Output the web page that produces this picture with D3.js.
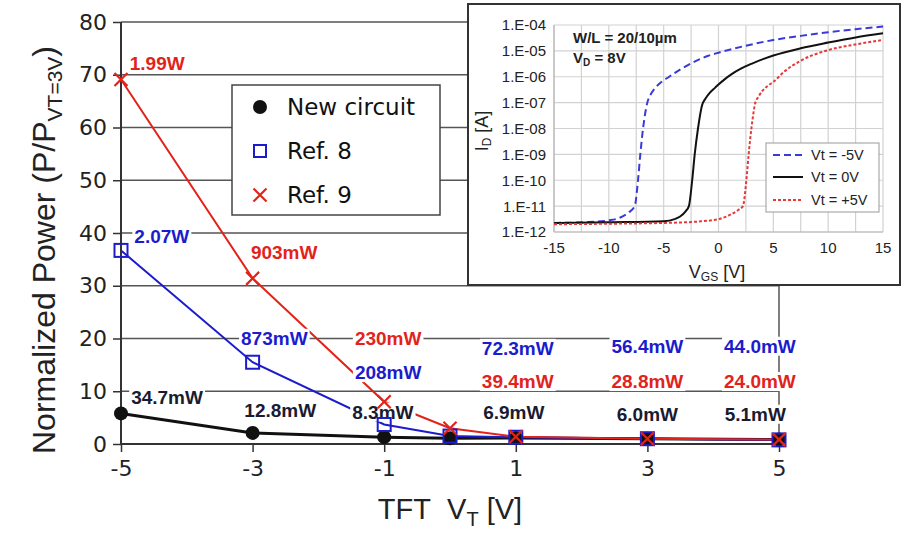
<!DOCTYPE html>
<html><head><meta charset="utf-8">
<script src="https://cdn.jsdelivr.net/npm/d3@7"></script>
<style>html,body{margin:0;padding:0;background:#fff;}svg{display:block;}</style>
</head><body>
<svg id="chart" width="915" height="533"></svg>
<script>
// ---------- Main chart data ----------
const vtValues = [-5, -3, -1, 0, 1, 3, 5];
const newCircuit = [5.8, 2.1, 1.3, 1.1, 1.15, 1.0, 0.85];
const ref8 = [36.7, 15.5, 3.7, 1.5, 1.28, 1.0, 0.78];
const ref9 = [69.1, 31.4, 8.0, 3.0, 1.37, 1.0, 0.83];
const yTicks = [0, 10, 20, 30, 40, 50, 60, 70, 80];
const xTicks = [-5, -3, -1, 1, 3, 5];
const seriesNames = ["New circuit", "Ref. 8", "Ref. 9"];

// power annotations: [text, vt, normalized-power anchor]
const labelsNew = [["34.7mW", -4.30, 8.9], ["12.8mW", -2.58, 6.4], ["8.3mW", -1.02, 6.1], ["6.9mW", 0.97, 6.1], ["6.0mW", 3.0, 5.7], ["5.1mW", 4.64, 5.7]];
const labelsRef8 = [["2.07W", -4.38, 39.4], ["873mW", -2.67, 20.1], ["208mW", -0.94, 13.6], ["72.3mW", 1.03, 18.2], ["56.4mW", 3.0, 18.6], ["44.0mW", 4.71, 18.6]];
const labelsRef9 = [["1.99W", -4.45, 72.2], ["903mW", -2.52, 36.4], ["230mW", -0.94, 20.1], ["39.4mW", 1.03, 11.9], ["28.8mW", 3.0, 11.9], ["24.0mW", 4.71, 11.9]];

// ---------- Inset data (VGS [V], log10 ID [A]) ----------
const vgsNeg5 = [-15, -12, -10, -9, -8.2, -7.64, -7.34, -7.13, -6.88, -6.49, -6.2, -5.8, -5.2, -4.5, -3.4, -2, -1, 0, 2.5, 5, 7.5, 10, 12.5, 15];
const logIdNeg5 = [-11.65, -11.62, -11.55, -11.45, -11.25, -11.0, -10.0, -9.0, -8.0, -7.0, -6.7, -6.45, -6.2, -6.0, -5.7, -5.38, -5.2, -5.07, -4.8, -4.58, -4.42, -4.28, -4.16, -4.06];
const vgsZero = [-15, -10, -5, -4, -3.5, -3.0, -2.7, -2.4, -2.17, -1.87, -1.5, -1.2, -0.8, -0.3, 0, 0.5, 1.2, 2, 3, 5, 7.5, 10, 12.5, 15];
const logIdZero = [-11.65, -11.62, -11.58, -11.5, -11.4, -11.2, -11.0, -10.0, -9.0, -8.0, -7.1, -6.85, -6.62, -6.42, -6.3, -6.12, -5.9, -5.7, -5.5, -5.18, -4.9, -4.68, -4.48, -4.32];
const vgsPos5 = [-15, -10, -5, -2, 0, 1, 1.8, 2.23, 2.54, 2.75, 3.0, 3.36, 3.6, 4.0, 4.5, 5, 6, 7.5, 10, 12.5, 15];
const logIdPos5 = [-11.7, -11.68, -11.65, -11.6, -11.5, -11.35, -11.15, -11.0, -10.0, -9.0, -8.0, -7.0, -6.8, -6.55, -6.35, -6.2, -5.8, -5.38, -4.97, -4.75, -4.58];
const insetXTicks = [-15, -10, -5, 0, 5, 10, 15];
const insetYExps = [-4, -5, -6, -7, -8, -9, -10, -11, -12];
const insetLegend = ["Vt = -5V", "Vt = 0V", "Vt = +5V"];

// ---------- Styling ----------
const RED = "#e2231a", BLUE = "#1c1ccc", BLACK = "#111", LBLACK = "#1b1b2f";
const svg = d3.select("#chart");

// ---------- Main scales ----------
const x = d3.scaleLinear().domain([-5, 5]).range([121, 779]);
const y = d3.scaleLinear().domain([0, 80]).range([444, 22]);

// gridlines
svg.append("g").selectAll("line").data(yTicks.filter(d => d > 0)).join("line")
  .attr("x1", x(-5)).attr("x2", x(5)).attr("y1", d => y(d)).attr("y2", d => y(d))
  .attr("stroke", "#555").attr("stroke-width", 1.5);
// right border
svg.append("line").attr("x1", x(5)).attr("x2", x(5)).attr("y1", y(80)).attr("y2", y(0))
  .attr("stroke", "#555").attr("stroke-width", 1.5);

// axes
const yAxis = d3.axisLeft(y).tickValues(yTicks).tickSize(8).tickPadding(6).tickFormat(d => String(d));
const gy = svg.append("g").attr("transform", `translate(${x(-5)},0)`).call(yAxis);
const xAxis = d3.axisBottom(x).tickValues(xTicks).tickSize(8).tickPadding(8).tickFormat(d => String(d));
const gx = svg.append("g").attr("transform", `translate(0,${y(0)})`).call(xAxis);
[gx, gy].forEach(g => {
  g.select(".domain").attr("stroke", "#333").attr("stroke-width", 2);
  g.selectAll(".tick line").attr("stroke", "#333").attr("stroke-width", 1.5);
  g.selectAll(".tick text").attr("font-family", "DejaVu Sans").attr("font-size", 22).attr("fill", "#222");
});
gy.select(".domain").attr("d", `M0,${y(0)}V${y(80)}`);
gx.select(".domain").attr("d", `M${x(-5)},0H${x(5)}`);

// axis titles
const xt = svg.append("text").attr("x", 450).attr("y", 519).attr("text-anchor", "middle")
  .attr("font-family", "Liberation Sans").attr("font-size", 29).attr("fill", "#222");
xt.append("tspan").text("TFT\u00a0\u00a0V");
xt.append("tspan").attr("font-size", 20).attr("dy", 7).text("T");
xt.append("tspan").attr("dy", -7).text(" [V]");

const yt = svg.append("text").attr("transform", "translate(55,250) rotate(-90)").attr("text-anchor", "middle")
  .attr("font-family", "Liberation Sans").attr("font-size", 32).attr("fill", "#222");
yt.append("tspan").text("Normalized Power (P/P");
yt.append("tspan").attr("font-size", 21).attr("dy", 7).text("VT=3V");
yt.append("tspan").attr("dy", -7).text(")");

// lines
const lineGen = d3.line().x((d, i) => x(vtValues[i])).y(d => y(d));
svg.append("path").datum(newCircuit).attr("d", lineGen).attr("fill", "none").attr("stroke", BLACK).attr("stroke-width", 3);
svg.append("path").datum(ref8).attr("d", lineGen).attr("fill", "none").attr("stroke", BLUE).attr("stroke-width", 2);
svg.append("path").datum(ref9).attr("d", lineGen).attr("fill", "none").attr("stroke", RED).attr("stroke-width", 2);

// labels with white background
function drawLabels(arr, color) {
  const g = svg.append("g");
  arr.forEach(([t, vx, vy]) => {
    const tx = g.append("text").attr("x", x(vx)).attr("y", y(vy)).attr("dy", "0.36em")
      .attr("text-anchor", "middle").attr("font-family", "Liberation Sans").attr("font-weight", "bold")
      .attr("font-size", 19).attr("fill", color).text(t);
    const bb = tx.node().getBBox();
    g.insert("rect", () => tx.node()).attr("x", bb.x - 2).attr("y", bb.y + 1).attr("width", bb.width + 4).attr("height", bb.height - 2).attr("fill", "#fff");
  });
}
drawLabels(labelsRef8, BLUE);
drawLabels(labelsRef9, RED);
drawLabels(labelsNew, LBLACK);

// markers
function circleM(g, cx, cy, r) { g.append("circle").attr("cx", cx).attr("cy", cy).attr("r", r).attr("fill", BLACK); }
function squareM(g, cx, cy, s) { g.append("rect").attr("x", cx - s / 2).attr("y", cy - s / 2).attr("width", s).attr("height", s).attr("fill", "none").attr("stroke", BLUE).attr("stroke-width", 2); }
function crossM(g, cx, cy, s) {
  g.append("path").attr("d", `M${cx - s},${cy - s}L${cx + s},${cy + s}M${cx - s},${cy + s}L${cx + s},${cy - s}`)
    .attr("stroke", RED).attr("stroke-width", 2.2).attr("fill", "none");
}
const mg = svg.append("g");
newCircuit.forEach((v, i) => circleM(mg, x(vtValues[i]), y(v), 7));
ref8.forEach((v, i) => squareM(mg, x(vtValues[i]), y(v), 13));
ref9.forEach((v, i) => crossM(mg, x(vtValues[i]), y(v), 6.5));

// main legend
const lg = svg.append("g");
lg.append("rect").attr("x", 232).attr("y", 85).attr("width", 208).attr("height", 130).attr("fill", "#fff").attr("stroke", "#444").attr("stroke-width", 1.5);
const legY = [107, 151, 195];
circleM(lg, 260, legY[0], 7);
squareM(lg, 260, legY[1], 12);
crossM(lg, 260, legY[2], 6.5);
lg.selectAll("text").data(seriesNames).join("text").attr("x", 287).attr("y", (d, i) => legY[i]).attr("dy", "0.36em")
  .attr("font-family", "DejaVu Sans").attr("font-size", 23).attr("fill", "#111").text(d => d);

// ---------- Inset ----------
const ig = svg.append("g");
ig.append("rect").attr("x", 468).attr("y", 4).attr("width", 432).attr("height", 281).attr("fill", "#fff").attr("stroke", "#333").attr("stroke-width", 2);
const ix = d3.scaleLinear().domain([-15, 15]).range([554, 883]);
const iy = d3.scaleLog().domain([1e-12, 1e-4]).range([232, 25]);
const vGrid = d3.range(-15, 15.1, 2.5);
ig.append("g").selectAll("line").data(vGrid).join("line")
  .attr("x1", d => ix(d)).attr("x2", d => ix(d)).attr("y1", iy(1e-4)).attr("y2", iy(1e-12))
  .attr("stroke", "#d2d2d2").attr("stroke-width", 1.2);
ig.append("g").selectAll("line").data(insetYExps).join("line")
  .attr("x1", ix(-15)).attr("x2", ix(15)).attr("y1", d => iy(Math.pow(10, d))).attr("y2", d => iy(Math.pow(10, d)))
  .attr("stroke", "#d2d2d2").attr("stroke-width", 1.2);
ig.append("line").attr("x1", ix(-15)).attr("x2", ix(-15)).attr("y1", iy(1e-4)).attr("y2", iy(1e-12)).attr("stroke", "#b8b8b8").attr("stroke-width", 1.2);
ig.append("line").attr("x1", ix(-15)).attr("x2", ix(15)).attr("y1", iy(1e-12)).attr("y2", iy(1e-12)).attr("stroke", "#b8b8b8").attr("stroke-width", 1.2);

ig.append("g").selectAll("text").data(insetYExps).join("text")
  .attr("x", 546).attr("y", d => iy(Math.pow(10, d))).attr("dy", "0.36em").attr("text-anchor", "end")
  .attr("font-family", "Liberation Sans").attr("font-size", 15).attr("fill", "#222")
  .text(d => "1.E" + (d < 0 ? "-" : "+") + String(Math.abs(d)).padStart(2, "0"));
ig.append("g").selectAll("text").data(insetXTicks).join("text")
  .attr("x", d => ix(d)).attr("y", 253).attr("text-anchor", "middle")
  .attr("font-family", "Liberation Sans").attr("font-size", 15).attr("fill", "#222").text(d => String(d));

const ixt = ig.append("text").attr("x", 717).attr("y", 278).attr("text-anchor", "middle")
  .attr("font-family", "Liberation Sans").attr("font-size", 18).attr("fill", "#222");
ixt.append("tspan").text("V");
ixt.append("tspan").attr("font-size", 12).attr("dy", 3).text("GS");
ixt.append("tspan").attr("dy", -3).text(" [V]");
const iyt = ig.append("text").attr("transform", "translate(488,131) rotate(-90)").attr("text-anchor", "middle")
  .attr("font-family", "Liberation Sans").attr("font-size", 18).attr("fill", "#222");
iyt.append("tspan").text("I");
iyt.append("tspan").attr("font-size", 12).attr("dy", 3).text("D");
iyt.append("tspan").attr("dy", -3).text(" [A]");

ig.append("text").attr("x", 573).attr("y", 43).attr("font-family", "Liberation Sans").attr("font-weight", "bold").attr("font-size", 15).attr("fill", "#222").text("W/L = 20/10\u00b5m");
const vd = ig.append("text").attr("x", 573).attr("y", 63).attr("font-family", "Liberation Sans").attr("font-weight", "bold").attr("font-size", 15).attr("fill", "#222");
vd.append("tspan").text("V");
vd.append("tspan").attr("font-size", 10).attr("dy", 3).text("D");
vd.append("tspan").attr("dy", -3).text("  =  8V");

const curveGen = (vs) => d3.line().x((d, i) => ix(vs[i])).y(d => iy(Math.pow(10, d))).curve(d3.curveMonotoneX);
const curveStyles = [
  { v: vgsNeg5, l: logIdNeg5, c: "#3a3ad8", dash: "7,4" },
  { v: vgsZero, l: logIdZero, c: "#111", dash: null },
  { v: vgsPos5, l: logIdPos5, c: "#e33a3a", dash: "3,2" }
];
curveStyles.forEach(s => {
  ig.append("path").datum(s.l).attr("d", curveGen(s.v)).attr("fill", "none").attr("stroke", s.c)
    .attr("stroke-width", 2).attr("stroke-dasharray", s.dash);
});

// inset legend
ig.append("rect").attr("x", 766).attr("y", 143).attr("width", 113).attr("height", 69).attr("fill", "#fff").attr("stroke", "#999").attr("stroke-width", 1);
const iLegY = [155, 177, 200];
curveStyles.forEach((s, i) => {
  ig.append("line").attr("x1", 773).attr("x2", 803).attr("y1", iLegY[i]).attr("y2", iLegY[i])
    .attr("stroke", s.c).attr("stroke-width", 2).attr("stroke-dasharray", s.dash);
});
ig.append("g").selectAll("text").data(insetLegend).join("text").attr("x", 811).attr("y", (d, i) => iLegY[i]).attr("dy", "0.36em")
  .attr("font-family", "Liberation Sans").attr("font-size", 14.5).attr("fill", "#222").text(d => d);
</script>
</body></html>
